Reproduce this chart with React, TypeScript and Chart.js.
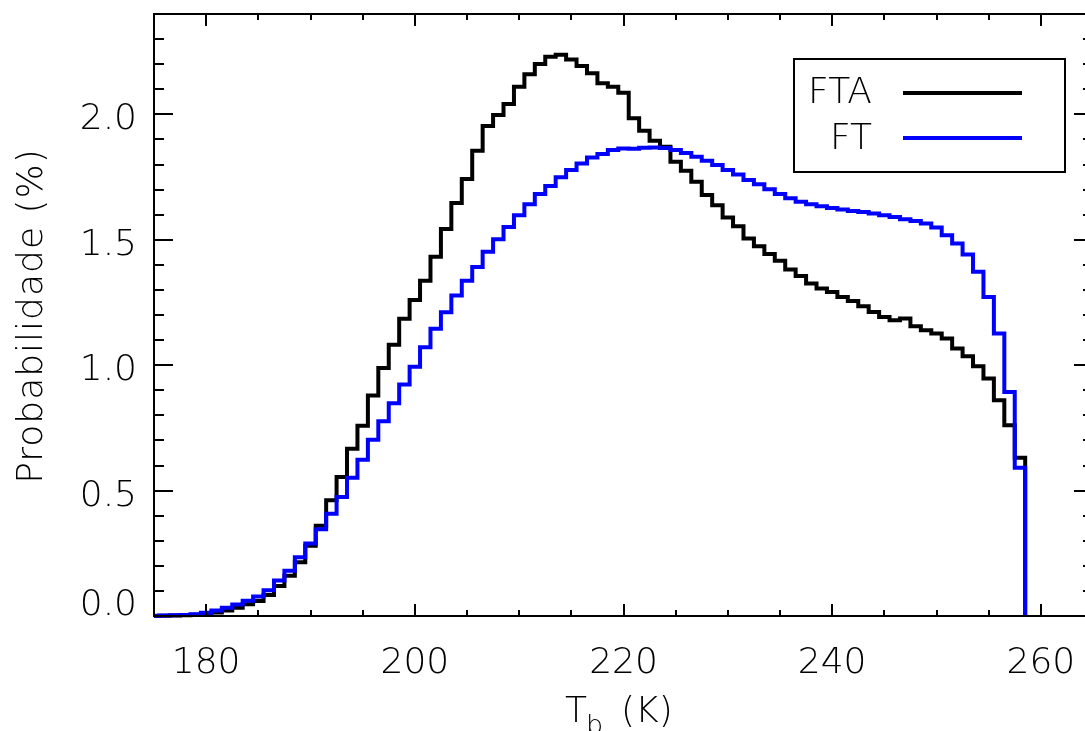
import React, { useEffect, useRef } from "react";
import { Chart, registerables } from "chart.js";

Chart.register(...registerables);

// ---- Data -----------------------------------------------------------------
// Histogram bins of brightness temperature (K), 1 K wide, centred on integers.
const binStart = 175; // centre of first bin
const binWidth = 1;

// FTA (black) probability per bin, %
const ftaValues = [
  0.000, 0.001, 0.002, 0.003, 0.005, 0.008, 0.014, 0.022, 0.033, 0.047,
  0.060, 0.084, 0.120, 0.160, 0.214, 0.280, 0.360, 0.461, 0.554, 0.667,
  0.758, 0.879, 0.989, 1.081, 1.185, 1.260, 1.337, 1.432, 1.543, 1.647,
  1.742, 1.855, 1.953, 1.997, 2.041, 2.110, 2.160, 2.201, 2.230, 2.238,
  2.219, 2.193, 2.164, 2.124, 2.110, 2.086, 1.984, 1.935, 1.895, 1.871,
  1.811, 1.775, 1.731, 1.678, 1.638, 1.589, 1.554, 1.505, 1.474, 1.443,
  1.416, 1.381, 1.355, 1.326, 1.306, 1.292, 1.272, 1.256, 1.235, 1.212,
  1.192, 1.179, 1.186, 1.155, 1.139, 1.126, 1.106, 1.066, 1.036, 0.996,
  0.947, 0.860, 0.760, 0.631,
];

// FT (blue) probability per bin, %
const ftValues = [
  0.001, 0.002, 0.003, 0.004, 0.007, 0.013, 0.022, 0.033, 0.046, 0.061,
  0.078, 0.103, 0.142, 0.180, 0.234, 0.289, 0.346, 0.408, 0.474, 0.551,
  0.623, 0.703, 0.776, 0.848, 0.923, 0.994, 1.071, 1.145, 1.211, 1.278,
  1.337, 1.391, 1.452, 1.502, 1.551, 1.598, 1.642, 1.682, 1.714, 1.749,
  1.778, 1.804, 1.828, 1.842, 1.858, 1.864, 1.863, 1.867, 1.868, 1.866,
  1.858, 1.846, 1.831, 1.815, 1.798, 1.778, 1.760, 1.738, 1.721, 1.701,
  1.682, 1.665, 1.651, 1.642, 1.634, 1.627, 1.621, 1.615, 1.611, 1.605,
  1.598, 1.591, 1.582, 1.575, 1.565, 1.549, 1.518, 1.485, 1.441, 1.372,
  1.272, 1.126, 0.893, 0.591,
];

const seriesNames = ["FTA", "FT"];
const seriesColors = ["#000000", "#0000ff"];

// Axes
const xMin = 175;
const xMax = 265;
const xMajorTicks = [180, 200, 220, 240, 260];
const xTickLabels = ["180", "200", "220", "240", "260"];
const xMinorStep = 5;
const yMin = 0;
const yMax = 2.4;
const yMajorTicks = [0.0, 0.5, 1.0, 1.5, 2.0];
const yTickLabels = ["0.0", "0.5", "1.0", "1.5", "2.0"];
const yMinorStep = 0.1;
const yTitle = "Probabilidade (%)";
const xTitleMain = "T";
const xTitleSub = "b";
const xTitleUnit = "(K)";

// ---- Layout / style ---------------------------------------------------------
const CANVAS_W = 1110;
const CANVAS_H = 731;
const PLOT_LEFT = 154;
const PLOT_TOP = 14;
const PLOT_RIGHT = 1093;
const PLOT_BOTTOM = 616;
const FONT_FAMILY = '"DejaVu Sans", "Liberation Sans", sans-serif';
const FONT = `200 36px ${FONT_FAMILY}`;
const SUB_FONT = `200 27px ${FONT_FAMILY}`;

function stepPoints(values: number[]) {
  const pts = values.map((v, i) => ({ x: binStart + i * binWidth - binWidth / 2, y: v }));
  pts.push({ x: binStart + values.length * binWidth - binWidth / 2, y: 0 });
  return pts;
}

const idlFrame = {
  id: "idlFrame",
  afterDraw(chart: any) {
    const { ctx, chartArea: a, scales } = chart;
    const x = scales.x;
    const y = scales.y;
    ctx.save();
    ctx.strokeStyle = "#000";
    ctx.fillStyle = "#000";
    ctx.lineWidth = 2;
    ctx.lineCap = "butt";
    ctx.strokeRect(a.left, a.top, a.right - a.left, a.bottom - a.top);

    const seg = (x1: number, y1: number, x2: number, y2: number) => {
      ctx.beginPath();
      ctx.moveTo(x1, y1);
      ctx.lineTo(x2, y2);
      ctx.stroke();
    };

    // x ticks (bottom and top, inward)
    const nx = Math.round((xMax - xMin) / xMinorStep);
    for (let k = 0; k <= nx; k++) {
      const v = xMin + k * xMinorStep;
      const px = Math.round(x.getPixelForValue(v));
      const major = xMajorTicks.includes(v);
      const len = major ? 12 : 6;
      seg(px, a.bottom, px, a.bottom - len);
      seg(px, a.top, px, a.top + len);
    }
    // y ticks (left and right, inward)
    const ny = Math.round((yMax - yMin) / yMinorStep);
    for (let k = 0; k <= ny; k++) {
      const v = yMin + k * yMinorStep;
      const py = Math.round(y.getPixelForValue(v));
      const major = k % 5 === 0;
      const len = major ? 19 : 10;
      seg(a.left, py, a.left + len, py);
      seg(a.right, py, a.right - len, py);
    }

    ctx.font = FONT;
    // x tick labels
    ctx.textAlign = "center";
    ctx.textBaseline = "alphabetic";
    xMajorTicks.forEach((v, i) => {
      ctx.fillText(xTickLabels[i], x.getPixelForValue(v), a.bottom + 57);
    });
    // y tick labels
    ctx.textAlign = "right";
    yMajorTicks.forEach((v, i) => {
      const py = y.getPixelForValue(v);
      const base = v === yMin ? a.bottom - 1 : py + 15;
      ctx.fillText(yTickLabels[i], a.left - 17, base);
    });

    // y title
    ctx.save();
    ctx.translate(42, 316);
    ctx.rotate(-Math.PI / 2);
    ctx.textAlign = "center";
    try { (ctx as any).letterSpacing = "1px"; } catch (e) {}
    ctx.fillText(yTitle, 0, 0);
    ctx.restore();

    // x title: T_b (K)
    ctx.textAlign = "left";
    ctx.fillText(xTitleMain, 565, 722);
    ctx.font = SUB_FONT;
    ctx.fillText(xTitleSub, 586, 734);
    ctx.font = FONT;
    ctx.fillText(xTitleUnit, 621, 722);

    // legend
    ctx.lineWidth = 2;
    ctx.strokeRect(794, 59, 271, 113);
    ctx.textAlign = "right";
    const rows = [
      { y: 103, ly: 93 },
      { y: 149, ly: 138 },
    ];
    seriesNames.forEach((name, i) => {
      ctx.fillStyle = "#000";
      ctx.fillText(name, 872, rows[i].y);
      ctx.strokeStyle = seriesColors[i];
      ctx.lineWidth = 4;
      seg(903, rows[i].ly, 1022, rows[i].ly);
    });
    ctx.restore();
  },
};

export default function App() {
  const ref = useRef<HTMLCanvasElement | null>(null);

  useEffect(() => {
    document.body.style.margin = "0";
    document.body.style.overflow = "hidden";
    const canvas = ref.current;
    if (!canvas) return;
    const chart = new Chart(canvas, {
      type: "line",
      data: {
        datasets: [
          {
            label: seriesNames[1],
            data: stepPoints(ftValues),
            borderColor: seriesColors[1],
            backgroundColor: seriesColors[1],
            borderWidth: 4,
            stepped: "before",
            pointRadius: 0,
            fill: false,
            borderJoinStyle: "miter",
            borderCapStyle: "butt",
            clip: { left: 0, top: 5, right: 5, bottom: 3 },
          },
          {
            label: seriesNames[0],
            data: stepPoints(ftaValues),
            borderColor: seriesColors[0],
            backgroundColor: seriesColors[0],
            borderWidth: 4,
            stepped: "before",
            pointRadius: 0,
            fill: false,
            borderJoinStyle: "miter",
            borderCapStyle: "butt",
            clip: { left: 0, top: 5, right: 5, bottom: 3 },
          },
        ] as any,
      },
      options: {
        responsive: false,
        animation: false,
        devicePixelRatio: 1,
        parsing: false as any,
        normalized: true,
        layout: {
          padding: {
            left: PLOT_LEFT,
            top: PLOT_TOP,
            right: CANVAS_W - PLOT_RIGHT,
            bottom: CANVAS_H - PLOT_BOTTOM,
          },
        },
        scales: {
          x: { type: "linear", min: xMin, max: xMax, display: false },
          y: { type: "linear", min: yMin, max: yMax, display: false },
        },
        plugins: {
          legend: { display: false },
          title: { display: false },
          tooltip: { enabled: false },
        },
        events: [],
      },
      plugins: [idlFrame],
    });
    return () => chart.destroy();
  }, []);

  return (
    <div
      style={{
        position: "fixed",
        left: 0,
        top: 0,
        width: 1085,
        height: 731,
        overflow: "hidden",
        background: "#fff",
      }}
    >
      <canvas ref={ref} width={CANVAS_W} height={CANVAS_H} style={{ display: "block" }} />
    </div>
  );
}
